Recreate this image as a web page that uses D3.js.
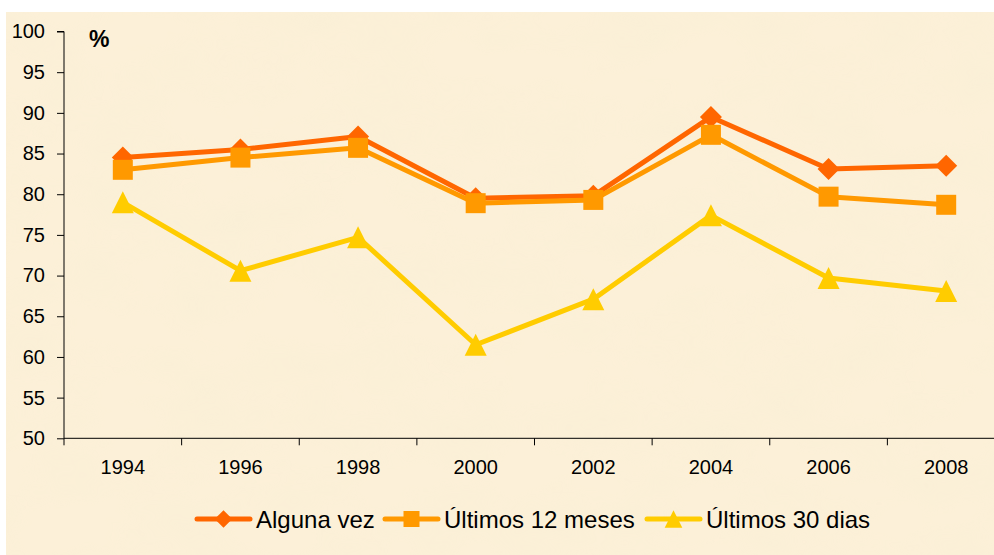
<!DOCTYPE html>
<html>
<head>
<meta charset="utf-8">
<script src="https://cdn.jsdelivr.net/npm/d3@7"></script>
<style>
  body { margin: 0; background: #fff; }
  svg { display: block; font-family: "Liberation Sans", Arial, sans-serif; }
</style>
</head>
<body>
<svg id="chart" width="994" height="555"></svg>
<script>
// data
const years = ["1994", "1996", "1998", "2000", "2002", "2004", "2006", "2008"];
const algunaVez = [84.5, 85.5, 87.1, 79.5, 79.8, 89.5, 83.1, 83.5];
const ultimos12 = [83.0, 84.5, 85.7, 78.9, 79.3, 87.3, 79.7, 78.7];
const ultimos30 = [79.0, 70.6, 74.7, 61.5, 67.1, 77.4, 69.7, 68.1];
const yTicks = [50, 55, 60, 65, 70, 75, 80, 85, 90, 95, 100];

const series = [
    { name: "Alguna vez", values: algunaVez, color: "#ff6600", marker: "diamond" },
    { name: "Últimos 12 meses", values: ultimos12, color: "#ff9900", marker: "square" },
    { name: "Últimos 30 dias", values: ultimos30, color: "#ffcc00", marker: "triangle" }
];

const svg = d3.select("#chart");
const W = 994, H = 555;

// parchment background
const defs = svg.append("defs");
const f = defs.append("filter").attr("id", "paper")
    .attr("x", 0).attr("y", 0).attr("width", "100%").attr("height", "100%");
f.append("feTurbulence").attr("type", "fractalNoise")
    .attr("baseFrequency", "0.012 0.02").attr("numOctaves", 3).attr("seed", 7);
f.append("feColorMatrix").attr("type", "matrix")
    .attr("values", "0 0 0 0 0.93  0 0 0 0 0.86  0 0 0 0 0.66  0 0 0 -1.2 0.75");

svg.append("rect").attr("x", 6).attr("y", 12).attr("width", W - 6).attr("height", H - 12)
    .attr("fill", "#fcf0d8");
svg.append("rect").attr("x", 6).attr("y", 12).attr("width", W - 6).attr("height", H - 12)
    .attr("filter", "url(#paper)").attr("opacity", 0.55);

const plotLeft = 64, plotTop = 31.5, plotBottom = 438.3;

const y = d3.scaleLinear().domain([50, 100]).range([plotBottom, plotTop]);
const x = d3.scaleBand().domain(years).range([plotLeft, 1005]).padding(0);

// y axis
const yAxis = svg.append("g")
    .attr("transform", `translate(${plotLeft},0)`)
    .call(d3.axisLeft(y).tickValues(yTicks).tickSize(7).tickPadding(12));
yAxis.select(".domain").attr("stroke", "#000").attr("d", `M-7,${y(100)}H0V${plotBottom}`);
yAxis.selectAll("text").attr("font-size", 20).attr("fill", "#000")
    .attr("font-family", "Liberation Sans, Arial, sans-serif");

// x axis: labels centred in bands, tick marks on band edges
const xAxis = svg.append("g")
    .attr("transform", `translate(0,${plotBottom})`)
    .call(d3.axisBottom(x).tickSize(0).tickPadding(22));
xAxis.select(".domain").attr("stroke", "#000").attr("d", `M${plotLeft},0H${W}`);
xAxis.selectAll("text").attr("font-size", 20).attr("fill", "#000")
    .attr("font-family", "Liberation Sans, Arial, sans-serif");
xAxis.selectAll(".edge")
    .data(years)
    .enter().append("line")
    .attr("class", "edge")
    .attr("x1", d => x(d)).attr("x2", d => x(d))
    .attr("y1", 0).attr("y2", 7)
    .attr("stroke", "#000");

// unit label
svg.append("text").attr("x", 89).attr("y", 47)
    .attr("font-size", 23).attr("font-weight", "bold").text("%");

function markerPath(type) {
    if (type === "diamond") return "M0,-11L11,0L0,11L-11,0Z";
    if (type === "square") return "M-10,-10H10V10H-10Z";
    return "M0,-11L11,11H-11Z";
}

const line = d3.line()
    .x((d, i) => x(years[i]) + x.bandwidth() / 2)
    .y(d => y(d));

series.forEach(s => {
    const g = svg.append("g");
    g.append("path")
        .datum(s.values)
        .attr("fill", "none")
        .attr("stroke", s.color)
        .attr("stroke-width", 5)
        .attr("stroke-linejoin", "round")
        .attr("d", line);
    g.selectAll("path.mk")
        .data(s.values)
        .enter().append("path")
        .attr("class", "mk")
        .attr("transform", (d, i) => `translate(${x(years[i]) + x.bandwidth() / 2},${y(d)})`)
        .attr("d", markerPath(s.marker))
        .attr("fill", s.color);
});

// legend
const legendItems = [
    { lx: 197, tx: 256 },
    { lx: 385, tx: 444 },
    { lx: 647, tx: 706 }
];
const ly = 519;
series.forEach((s, i) => {
    const it = legendItems[i];
    const g = svg.append("g");
    g.append("line")
        .attr("x1", it.lx).attr("x2", it.lx + 53)
        .attr("y1", ly).attr("y2", ly)
        .attr("stroke", s.color).attr("stroke-width", 5)
        .attr("stroke-linecap", "round");
    g.append("path")
        .attr("transform", `translate(${it.lx + 26.5},${ly}) scale(0.8)`)
        .attr("d", markerPath(s.marker))
        .attr("fill", s.color);
    g.append("text")
        .attr("x", it.tx).attr("y", ly + 9)
        .attr("font-size", 24).attr("fill", "#000")
        .text(s.name);
});
</script>
</body>
</html>
